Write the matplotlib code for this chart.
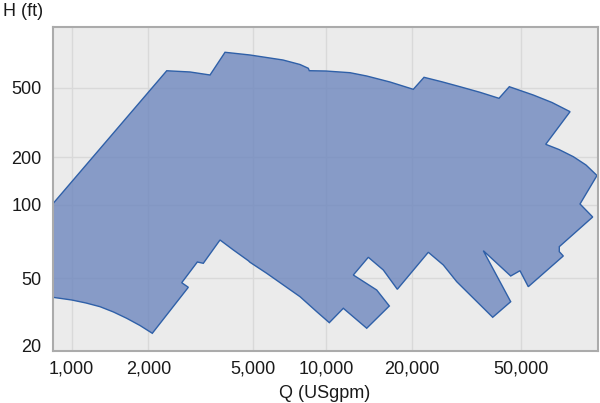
import numpy as np
import matplotlib
matplotlib.use("Agg")
import matplotlib.pyplot as plt
from matplotlib.patches import Polygon
from matplotlib.ticker import FixedLocator, NullLocator, FixedFormatter
import matplotlib.transforms as mtransforms

plt.rcParams['font.family'] = ['Liberation Sans', 'DejaVu Sans']

# ---- data: outline of the pump coverage envelope (Q in USgpm, H in ft) ----
flow_q = [842, 2349, 2878, 3427, 3906, 4858, 6636, 7804, 8448, 8529,
          9971, 12141, 13900, 16784, 20268, 22176, 25789, 29989, 35446, 41567,
          45330, 55415, 64834, 75426, 61499, 68745, 77538, 86215, 94535, 82000,
          91188, 68918, 68918, 71269, 53142, 49578, 45864, 36441, 45864, 39438,
          29170, 26071, 22988, 17803, 15895, 14081, 12472, 15069, 16688, 13900,
          11502, 10270, 9152, 7804, 5681, 4858, 4786, 4201, 3739, 3232,
          3068, 2677, 2836, 2071, 1855, 1645, 1459, 1292, 1138, 1000,
          842]
head_h = [101.5, 625, 615, 591, 797, 769, 720, 678.6, 645.5, 625.4,
          622.9, 609.2, 583.2, 538.9, 489.5, 573.3, 540.3, 506.5, 470.6, 434.8,
          506.5, 454.1, 411.5, 364.6, 237.3, 221.6, 201.6, 178.8, 153.5, 101.5,
          89.27, 67.43, 64.32, 61.75, 44.98, 53.72, 51.10, 64.93, 37.23, 30.59,
          47.90, 56.70, 63.96, 43.53, 54.08, 61.00, 51.58, 43.14, 35.27, 26.64,
          34.26, 28.58, 32.83, 39.66, 52.42, 58.17, 59.06, 65.36, 71.83, 57.62,
          58.33, 47.30, 44.64, 25.0, 27.58, 30.20, 32.70, 34.96, 36.63, 38.04,
          39.36]

x_ticks = [1000, 2000, 5000, 10000, 20000, 50000]
x_tick_labels = ["1,000", "2,000", "5,000", "10,000", "20,000", "50,000"]
y_ticks = [20, 50, 100, 200, 500]
y_tick_labels = ["20", "50", "100", "200", "500"]

# ---- axis scale calibration (the original chart's log axes are unevenly spaced) ----
X_LOG = np.array([2.0, 3.0, np.log10(2000), np.log10(5000), 4.0, np.log10(20000), np.log10(50000), 6.0])
X_UNIT = np.array([-182.8, 71.7, 148.3, 253.3, 326.0, 411.7, 521.0, 878.4])
Y_LOG = np.array([0.0, np.log10(20), np.log10(50), 2.0, np.log10(200), np.log10(500), 4.0])
Y_UNIT = np.array([-237.7, 0.0, 72.7, 146.0, 193.7, 263.3, 490.9])


def make_scale(logk, unitk):
    def fwd(v):
        v = np.clip(np.asarray(v, dtype=float), 1e-300, None)
        return np.interp(np.log10(v), logk, unitk)

    def inv(u):
        return 10 ** np.interp(np.asarray(u, dtype=float), unitk, logk)
    return fwd, inv


fig = plt.figure(figsize=(6.0, 4.03), dpi=100)
ax = fig.add_axes([52.7 / 600, 1 - 351 / 403, (597.7 - 52.7) / 600, (351 - 26.7) / 403])
ax.set_xscale('function', functions=make_scale(X_LOG, X_UNIT))
ax.set_yscale('function', functions=make_scale(Y_LOG, Y_UNIT))
ax.set_xlim(842, 95090)
ax.set_ylim(20, 1116)

ax.set_facecolor('#EBEBEB')
ax.xaxis.set_major_locator(FixedLocator(x_ticks))
ax.xaxis.set_major_formatter(FixedFormatter(x_tick_labels))
ax.yaxis.set_major_locator(FixedLocator(y_ticks))
ax.yaxis.set_major_formatter(FixedFormatter(y_tick_labels))
ax.xaxis.set_minor_locator(NullLocator())
ax.yaxis.set_minor_locator(NullLocator())
ax.grid(True, color='#D9D9D9', linewidth=1.0)
ax.set_axisbelow(True)
ax.tick_params(axis='both', length=0, labelsize=13, labelcolor='#1a1a1a')
ax.tick_params(axis='x', pad=7)
ax.tick_params(axis='y', pad=8)

for s in ax.spines.values():
    s.set_color('#ABABAB')
    s.set_linewidth(1.5)

poly = Polygon(np.column_stack([flow_q, head_h]), closed=True,
               facecolor=(110 / 255, 135 / 255, 190 / 255, 0.8),
               edgecolor='#2F60A8', linewidth=1.0, joinstyle='miter', zorder=2)
ax.add_patch(poly)

# lift the bottom "20" label a little as in the original
fig.canvas.draw()
lbl = ax.yaxis.get_ticklabels()[0]
lbl.set_transform(lbl.get_transform() + mtransforms.ScaledTranslation(0, 6 / 100, fig.dpi_scale_trans))

fig.text(3 / 600, 1 - 11 / 403, "H (ft)", ha='left', va='center', fontsize=13, color='#1a1a1a')
fig.text(325 / 600, 1 - 398 / 403, "Q (USgpm)", ha='center', va='baseline', fontsize=13, color='#1a1a1a')

fig.savefig("out.png", dpi=100)
